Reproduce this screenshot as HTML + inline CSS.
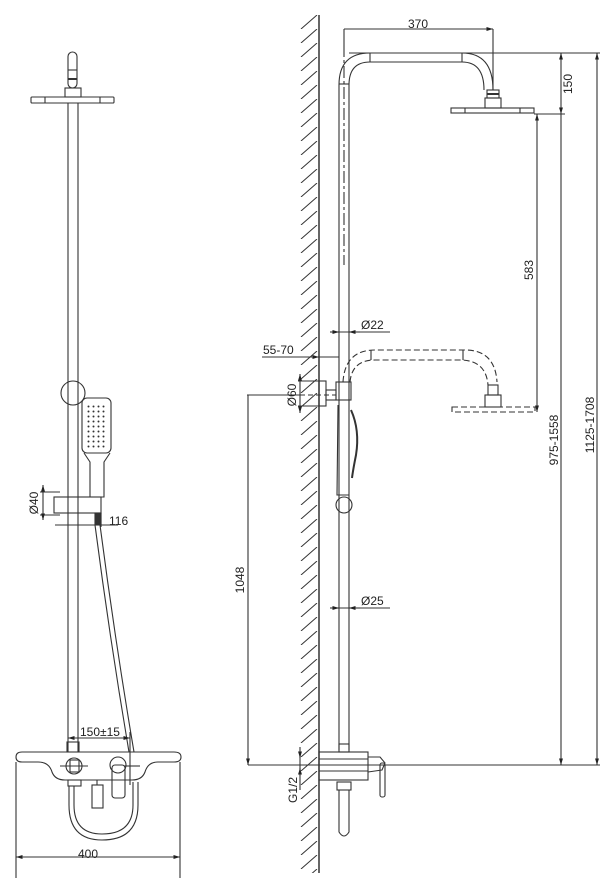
<!DOCTYPE html>
<html><head><meta charset="utf-8"><style>
html,body{margin:0;padding:0;background:#fff}
svg{display:block}
text{font-family:"Liberation Sans",sans-serif;font-size:12px;fill:#222}
</style></head><body>
<svg width="615" height="893" viewBox="0 0 615 893" xmlns="http://www.w3.org/2000/svg">
<defs>
<marker id="a" viewBox="0 0 10 10" refX="10" refY="5" markerWidth="6" markerHeight="6" orient="auto-start-reverse"><path d="M0,2L10,5L0,8z" fill="#222"/></marker>
<pattern id="h" x="299" y="15" width="20" height="14" patternUnits="userSpaceOnUse"><path d="M2,14L18,0" stroke="#333" stroke-width="1"/></pattern>
<pattern id="d" x="86" y="404" width="5" height="5" patternUnits="userSpaceOnUse"><circle cx="2.5" cy="2.5" r="1" fill="#333"/></pattern>
</defs>
<g fill="none" stroke="#333" stroke-width="1.1">
<!-- LEFT VIEW -->
<rect x="68" y="52" width="9" height="36" rx="4.5"/>
<line x1="68" y1="70" x2="77" y2="70"/><line x1="68" y1="79" x2="77" y2="79" stroke-width="2"/>
<rect x="65" y="88" width="16" height="9"/>
<rect x="31" y="97" width="83" height="6" rx="1"/>
<line x1="45" y1="97" x2="45" y2="103"/><line x1="100" y1="97" x2="100" y2="103"/>
<line x1="68" y1="103" x2="68" y2="752"/><line x1="78" y1="103" x2="78" y2="752"/>
<circle cx="73" cy="393" r="12"/>
<rect x="82" y="398" width="29" height="55" rx="5"/>
<rect x="86" y="404" width="21" height="45" fill="url(#d)" stroke="none"/>
<path d="M84,453 L90,462 L90,497 L104,497 L104,462 L110,453"/>
<rect x="54" y="497" width="47" height="16"/>
<rect x="95" y="513" width="6" height="12" fill="#333"/>
<line x1="40" y1="492" x2="60" y2="492"/><line x1="40" y1="515" x2="60" y2="515"/>
<line x1="43" y1="485" x2="43" y2="520" marker-start="url(#a)" marker-end="url(#a)"/>
<line x1="101" y1="513" x2="101" y2="527"/><line x1="55" y1="525" x2="118" y2="525"/>
<path d="M95,525 Q110,640 129,752"/><path d="M100,525 Q115,640 134,752"/>
<!-- bottom mixer left -->
<line x1="68" y1="738" x2="130" y2="738" marker-start="url(#a)" marker-end="url(#a)"/>
<line x1="130" y1="732" x2="130" y2="785"/>
<rect x="67" y="742" width="12" height="10"/>
<path d="M22,752 L174,752 Q181,752 181,757 Q181,762 174,762 L158,762 Q148,762 145,772 Q142,780 132,780 L65,780 Q55,780 52,772 Q49,762 38,762 L22,762 Q16,762 16,757 Q16,752 22,752z"/>
<circle cx="74" cy="766" r="8"/><rect x="70" y="760" width="9" height="12"/>
<line x1="60" y1="766" x2="88" y2="766"/><line x1="124" y1="766" x2="140" y2="766"/>
<circle cx="118" cy="765" r="8"/>
<rect x="112" y="765" width="13" height="33" rx="3"/>
<rect x="92" y="785" width="11" height="23"/><line x1="97" y1="780" x2="97" y2="785"/>
<rect x="68" y="780" width="13" height="6"/>
<path d="M69,786 L69,805 Q69,840 102,840 Q138,840 138,805 L138,782"/>
<path d="M74,786 L74,805 Q74,834 102,834 Q133,834 133,805 L133,782"/>
<line x1="16" y1="762" x2="16" y2="878"/><line x1="180" y1="762" x2="180" y2="878"/>
<line x1="16" y1="857" x2="180" y2="857" marker-start="url(#a)" marker-end="url(#a)"/>
<!-- RIGHT VIEW -->
<rect x="299" y="15" width="20" height="858" fill="url(#h)" stroke="none"/>
<line x1="319" y1="15" x2="319" y2="873" stroke-width="1.5"/>
<path d="M339,750 L339,85 Q339,53 370,53 L462,53 Q493,53 493,90"/>
<path d="M349,750 L349,85 Q349,62 370,62 L462,62 Q484,62 484,90"/>
<line x1="370" y1="53" x2="370" y2="62"/><line x1="462" y1="53" x2="462" y2="62"/>
<line x1="339" y1="84" x2="349" y2="84"/>
<line x1="344" y1="45" x2="344" y2="265" stroke-dasharray="12,3,3,3"/>
<rect x="487" y="90" width="12" height="8"/><line x1="487" y1="94" x2="499" y2="94" stroke-width="2"/>
<rect x="485" y="98" width="16" height="10"/>
<rect x="451" y="108" width="83" height="5"/>
<line x1="465" y1="108" x2="465" y2="113"/><line x1="520" y1="108" x2="520" y2="113"/>
<line x1="344" y1="29" x2="493" y2="29" marker-end="url(#a)"/>
<line x1="344" y1="29" x2="344" y2="45"/><line x1="493" y1="29" x2="493" y2="90"/>
<line x1="349" y1="53" x2="600" y2="53"/>
<line x1="534" y1="114" x2="565" y2="114"/>
<line x1="561" y1="53" x2="561" y2="114" marker-start="url(#a)" marker-end="url(#a)"/>
<line x1="537" y1="114" x2="537" y2="412" marker-start="url(#a)" marker-end="url(#a)"/>
<line x1="561" y1="114" x2="561" y2="765" marker-end="url(#a)"/>
<line x1="597" y1="53" x2="597" y2="765" marker-start="url(#a)" marker-end="url(#a)"/>
<g stroke-dasharray="6,3">
<path d="M343,382 Q345,350 375,350 L465,350 Q495,350 497,382"/>
<path d="M350,382 Q352,360 375,360 L460,360 Q486,360 488,385"/>
<rect x="452" y="407" width="83" height="5"/>
</g>
<line x1="371" y1="350" x2="371" y2="360"/><line x1="463" y1="350" x2="463" y2="360"/>
<rect x="488" y="385" width="10" height="10"/><rect x="485" y="395" width="16" height="12"/>
<rect x="319" y="381" width="7" height="25"/><rect x="326" y="390" width="10" height="10"/>
<rect x="336" y="382" width="15" height="18"/>
<line x1="247" y1="395" x2="300" y2="395"/><line x1="300" y1="395" x2="336" y2="395" stroke-dasharray="5,3"/>
<line x1="298" y1="381" x2="319" y2="381"/><line x1="298" y1="406" x2="319" y2="406"/>
<line x1="300" y1="374" x2="300" y2="413" marker-start="url(#a)" marker-end="url(#a)"/>
<line x1="262" y1="357" x2="339" y2="357"/>
<line x1="300" y1="357" x2="319" y2="357" marker-end="url(#a)"/>
<line x1="335" y1="332" x2="390" y2="332"/>
<line x1="330" y1="332" x2="339" y2="332" marker-end="url(#a)"/>
<line x1="360" y1="332" x2="349" y2="332" marker-end="url(#a)"/>
<path d="M351,410 Q360,430 356,455 Q353,470 352,478" stroke-width="2"/>
<path d="M338,405 L337,495 L349,495"/>
<circle cx="344" cy="505" r="8"/>
<line x1="335" y1="608" x2="390" y2="608"/>
<line x1="330" y1="608" x2="339" y2="608" marker-end="url(#a)"/>
<line x1="360" y1="608" x2="349" y2="608" marker-end="url(#a)"/>
<line x1="248" y1="395" x2="248" y2="765" marker-end="url(#a)"/>
<rect x="339" y="744" width="10" height="8"/>
<rect x="319" y="752" width="49" height="28"/>
<line x1="319" y1="759" x2="368" y2="759"/><line x1="319" y1="771" x2="368" y2="771"/>
<path d="M368,757 L380,757 L385,763 L382,770 L368,772"/>
<rect x="380" y="763" width="5" height="34" rx="2"/>
<rect x="337" y="782" width="14" height="8"/>
<path d="M339,790 L339,832 Q344,840 349,832 L349,790"/>
<line x1="248" y1="765" x2="600" y2="765"/>
<line x1="300" y1="755" x2="300" y2="790"/>
<line x1="300" y1="747" x2="300" y2="758" marker-end="url(#a)"/>
<line x1="300" y1="776" x2="300" y2="768" marker-end="url(#a)"/>
</g>
<g stroke="none">
<text x="109" y="525">116</text>
<text x="80" y="736">150±15</text>
<text x="88" y="858" text-anchor="middle" font-size="11">400</text>
<text x="38" y="503" transform="rotate(-90 38 503)" text-anchor="middle">Ø40</text>
<text x="418" y="28" text-anchor="middle">370</text>
<text x="572" y="84" transform="rotate(-90 572 84)" text-anchor="middle">150</text>
<text x="533" y="270" transform="rotate(-90 533 270)" text-anchor="middle">583</text>
<text x="558" y="440" transform="rotate(-90 558 440)" text-anchor="middle">975-1558</text>
<text x="594" y="425" transform="rotate(-90 594 425)" text-anchor="middle">1125-1708</text>
<text x="244" y="580" transform="rotate(-90 244 580)" text-anchor="middle">1048</text>
<text x="296" y="395" transform="rotate(-90 296 395)" text-anchor="middle">Ø60</text>
<text x="297" y="790" transform="rotate(-90 297 790)" text-anchor="middle">G1/2</text>
<text x="263" y="354">55-70</text>
<text x="361" y="329">Ø22</text>
<text x="361" y="605">Ø25</text>
</g>
</svg>
</body></html>
